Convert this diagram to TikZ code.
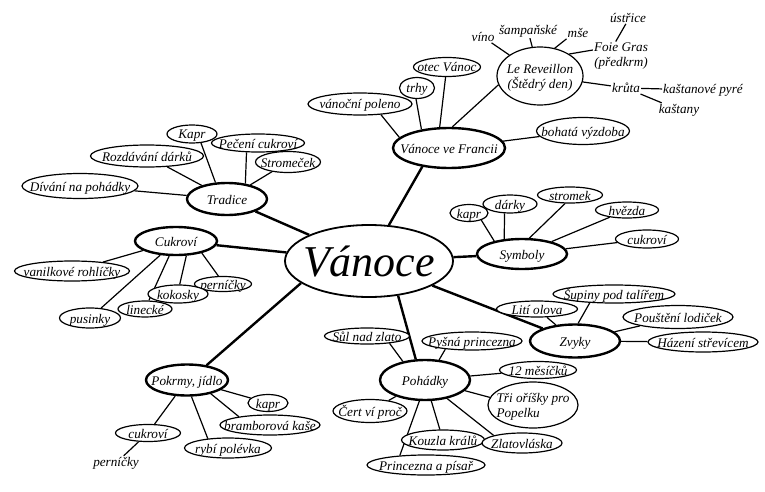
\documentclass[tikz,border=0pt]{standalone}
\usepackage{fontspec}
\setmainfont{Liberation Serif}
\usetikzlibrary{shapes.geometric,backgrounds}
\tikzset{
  bub/.style={ellipse,draw,fill=white,inner sep=0pt,line width=1.2pt,
    text height=10pt,text depth=0pt,
    execute at begin node={\hbox to 0pt\bgroup\hss},
    execute at end node={\hss\egroup}},
  sz/.style 2 args={minimum width=#1pt,minimum height=#2pt},
  topic/.style={bub,line width=2.4pt},
  word/.style={inner sep=1pt},
  twig/.style={line width=1.2pt},
  limb/.style={line width=2.4pt}
}
\begin{document}
\begin{tikzpicture}[x=1pt,y=-1pt,font=\itshape\fontsize{13.2}{15}\selectfont]
\useasboundingbox (0,0) rectangle (765,492);
\node[bub,sz={168}{72},line width=1.8pt,text height=30pt,font=\itshape\fontsize{44}{48}\selectfont] (van) at (369,261) {Vánoce};
\node[topic,sz={112}{40}] (fra) at (449,148) {Vánoce ve Francii};
\node[topic,sz={80}{32}] (tra) at (227,199) {Tradice};
\node[topic,sz={82}{28}] (cuk) at (176,241) {Cukroví};
\node[topic,sz={90}{30}] (sym) at (522,254) {Symboly};
\node[topic,sz={90}{33}] (zvy) at (575,341) {Zvyky};
\node[topic,sz={90}{40}] (poh) at (425,380) {Pohádky};
\node[topic,sz={82}{31}] (pok) at (187,380) {Pokrmy, jídlo};

\node[bub,sz={104}{22}] (pol) at (360,104) {vánoční poleno};
\node[bub,sz={35}{21}] (trh) at (417,88) {trhy};
\node[bub,sz={67}{19}] (ote) at (447,67) {otec Vánoc};
\node[bub,sz={86}{58}] (rev) at (540,76) {\begin{tabular}{@{}c@{}}Le Reveillon\\(Štědrý den)\end{tabular}};
\node[bub,sz={93}{27}] (vyz) at (583,131) {bohatá výzdoba};
\node[word] (vin) at (483,37) {víno};
\node[word] (sam) at (528,31) {šampaňské};
\node[word] (mse) at (578,33) {mše};
\node[word,align=center] (foi) at (621,56) {Foie Gras\\(předkrm)};
\node[word] (ust) at (628,18) {ústřice};
\node[word] (kru) at (626,88) {krůta};
\node[word] (pyr) at (703,90) {kaštanové pyré};
\node[word] (kas) at (679,110) {kaštany};

\node[bub,sz={113}{22}] (roz) at (147,156) {Rozdávání dárků};
\node[bub,sz={50}{18}] (kap) at (192,134) {Kapr};
\node[bub,sz={93}{18}] (pec) at (258,143) {Pečení cukroví};
\node[bub,sz={65}{21}] (str) at (288,162) {Stromeček};
\node[bub,sz={116}{25}] (div) at (80,186) {Dívání na pohádky};

\node[bub,sz={115}{20}] (vrh) at (72,271) {vanilkové rohlíčky};
\node[bub,sz={57}{15}] (per) at (223,284) {perníčky};
\node[bub,sz={60}{18}] (kok) at (178,294) {kokosky};
\node[bub,sz={61}{20}] (pus) at (90,318) {pusinky};
\node[bub,sz={54}{16}] (lin) at (145,309) {linecké};

\node[bub,sz={38}{17}] (skap) at (469,213) {kapr};
\node[bub,sz={54}{18}] (dar) at (510,204) {dárky};
\node[bub,sz={65}{16}] (stm) at (570,195) {stromek};
\node[bub,sz={63}{16}] (hve) at (627,210) {hvězda};
\node[bub,sz={63}{18}] (scu) at (647,239) {cukroví};

\node[bub,sz={81}{16}] (lit) at (537,309) {Lití olova};
\node[bub,sz={122}{18}] (sup) at (614,294) {Šupiny pod talířem};
\node[bub,sz={110}{23}] (pou) at (678,317) {Pouštění lodiček};
\node[bub,sz={110}{20}] (haz) at (703,342) {Házení střevícem};

\node[bub,sz={85}{16}] (sul) at (367,336) {Sůl nad zlato};
\node[bub,sz={100}{18}] (pys) at (472,341) {Pyšná princezna};
\node[bub,sz={77}{17}] (mes) at (538,370) {12 měsíčků};
\node[bub,sz={90}{46}] (tri) at (533,405) {\begin{tabular}{@{}l@{}}Tři oříšky pro\\Popelku\end{tabular}};
\node[bub,sz={74}{23}] (cer) at (370,411) {Čert ví proč};
\node[bub,sz={118}{20}] (pis) at (426,465) {Princezna a písař};
\node[bub,sz={83}{20}] (kou) at (443,440) {Kouzla králů};
\node[bub,sz={80}{20}] (zla) at (522,443) {Zlatovláska};

\node[bub,sz={40}{17}] (pkap) at (268,403) {kapr};
\node[bub,sz={100}{20}] (bra) at (270,425) {bramborová kaše};
\node[bub,sz={87}{20}] (ryb) at (228,448) {rybí polévka};
\node[bub,sz={65}{17}] (pcu) at (148,433) {cukroví};
\node[word] (pper) at (116,463) {perníčky};

\begin{pgfonlayer}{background}
\draw[limb] (van.61) -- (fra.215);
\draw[limb] (van) -- (tra);
\draw[limb] (van) -- (cuk);
\draw[limb] (van) -- (sym);
\draw[limb] (van) -- (zvy);
\draw[limb] (van.310) -- (poh.114);
\draw[limb] (van.198) -- (pok.37);

\draw[twig] (fra.168) -- (pol.333);
\draw[twig] (fra.146) -- (trh.265);
\draw[twig] (fra.114) -- (ote.262);
\draw[twig] (fra.81) -- (rev.192);
\draw[twig] (fra) -- (vyz);
\draw[twig] (rev) -- (vin);
\draw[twig] (rev) -- (sam);
\draw[twig] (rev.62) -- (mse.south west);
\draw[twig] (rev.37) -- (foi.168);
\draw[twig] (foi.110) -- (ust.250);
\draw[twig] (rev) -- (kru);
\draw[twig] (kru) -- (pyr);
\draw[twig] (kru) -- (kas);

\draw[twig] (tra) -- (div);
\draw[twig] (tra) -- (roz);
\draw[twig] (tra.125) -- (kap.315);
\draw[twig] (tra.40) -- (pec.219);
\draw[twig] (tra) -- (str);

\draw[twig] (cuk) -- (vrh);
\draw[twig] (cuk) -- (pus);
\draw[twig] (cuk) -- (lin);
\draw[twig] (cuk.305) -- (kok.80);
\draw[twig] (cuk.335) -- (per.120);

\draw[twig] (sym.155) -- (skap.330);
\draw[twig] (sym.140) -- (dar.240);
\draw[twig] (sym.65) -- (stm.240);
\draw[twig] (sym) -- (hve);
\draw[twig] (sym) -- (scu);

\draw[twig] (zvy) -- (lit);
\draw[twig] (zvy.80) -- (sup.200);
\draw[twig] (zvy) -- (pou);
\draw[twig] (zvy) -- (haz);

\draw[twig] (poh.140) -- (sul.342);
\draw[twig] (poh.55) -- (pys.197);
\draw[twig] (poh) -- (mes);
\draw[twig] (poh.345) -- (tri.170);
\draw[twig] (poh) -- (cer);
\draw[twig] (poh.255) -- (pis.160);
\draw[twig] (poh) -- (kou);
\draw[twig] (poh.320) -- (zla.165);

\draw[twig] (pok) -- (pkap);
\draw[twig] (pok.330) -- (bra.165);
\draw[twig] (pok.285) -- (ryb.155);
\draw[twig] (pok) -- (pcu);
\draw[twig] (pcu) -- (pper);
\end{pgfonlayer}
\end{tikzpicture}
\end{document}
